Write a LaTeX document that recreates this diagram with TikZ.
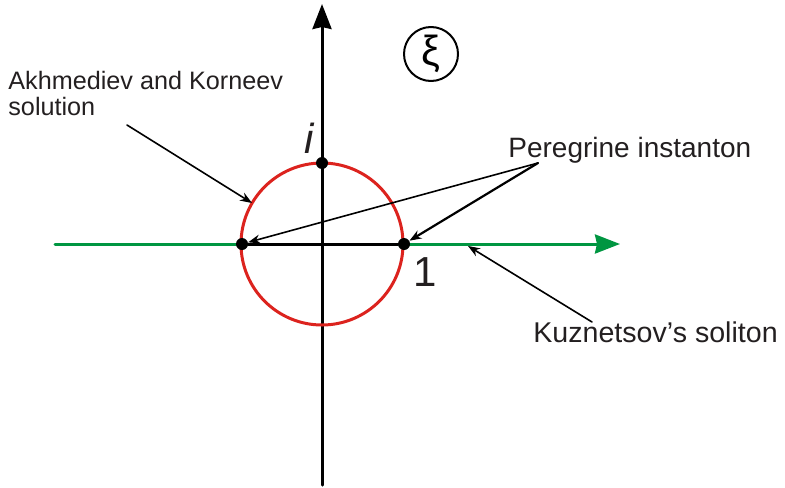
\documentclass[tikz,border=0pt]{standalone}
\usepackage{fontspec}
\setmainfont{Liberation Sans}
\usetikzlibrary{arrows.meta}
\definecolor{circred}{RGB}{220,35,30}
\definecolor{axisgreen}{RGB}{0,150,65}
\definecolor{ink}{RGB}{35,31,32}

\begin{document}
\begin{tikzpicture}[x=0.5pt, y=-0.5pt, line cap=round, line join=round,
    note/.style={inner sep=0pt, text=ink, font=\fontsize{14}{16}\selectfont},
    pointer/.style={-{Stealth[length=6pt, width=4.5pt]}, line width=0.8pt},
    axishead/.style={-{Stealth[length=12.5pt, width=9.5pt, inset=1pt]}, line width=1.5pt},
    dot/.style={circle, fill=black, inner sep=0pt, minimum size=6pt}]
  % Bounding box of the picture
  \useasboundingbox (0,0) rectangle (785,487);

  % Axis end points
  \coordinate (O) at (322,244);
  \coordinate (xleft) at (55,244);
  \coordinate (xright) at (620,244);
  \coordinate (ybottom) at (322,485);
  \coordinate (ytop) at (322,4);

  % Real axis (green) and imaginary axis
  \draw[axishead, axisgreen] (xleft) -- (xright);
  \draw[axishead] (ybottom) -- (ytop);

  % Unit circle
  \draw[circred, line width=1.5pt] (O) circle [radius=40.5pt];

  % Points on the circle
  \node[dot] (mone) at (242,244) {};
  \node[dot] (pone) at (404,244) {};
  \node[dot] (pi) at (322,163) {};

  % Segment between -1 and 1
  \draw[line width=1.5pt] (mone) -- (pone);

  % Labels of the points
  \node[text=ink, font=\fontsize{21}{24}\selectfont\itshape, anchor=base] (ilabel) at (309,153) {i};
  \node[text=ink, font=\fontsize{21}{24}\selectfont, anchor=base] (onelabel) at (425,286) {1};

  % Plane symbol
  \node[circle, draw, line width=1pt, minimum size=27pt, inner sep=0pt,
        font=\fontsize{21}{24}\selectfont] (xi) at (431,54) {ξ};

  % Annotations
  \node[note, font=\fontsize{12.6}{13}\selectfont, align=left, anchor=north west]
    (akh) at (8,71) {Akhmediev and Korneev\\solution};
  \node[note, anchor=base west] (pere) at (508,157) {Peregrine instanton};
  \node[note, font=\fontsize{14.3}{16}\selectfont, anchor=base west] (kuz) at (533,342) {Kuznetsov’s soliton};

  \coordinate (akhroot) at (127,125);
  \coordinate (akhtip) at (252,203);
  \coordinate (pereroot) at (538,163);
  \coordinate (kuzroot) at (592,322);
  \coordinate (kuztip) at (468,246);

  % Pointers
  \draw[pointer] (akhroot) -- (akhtip);
  \draw[pointer] (pereroot) -- (mone);
  \draw[pointer, line width=1.1pt] (pereroot) -- (pone);
  \draw[pointer] (kuzroot) -- (kuztip);
\end{tikzpicture}
\end{document}
